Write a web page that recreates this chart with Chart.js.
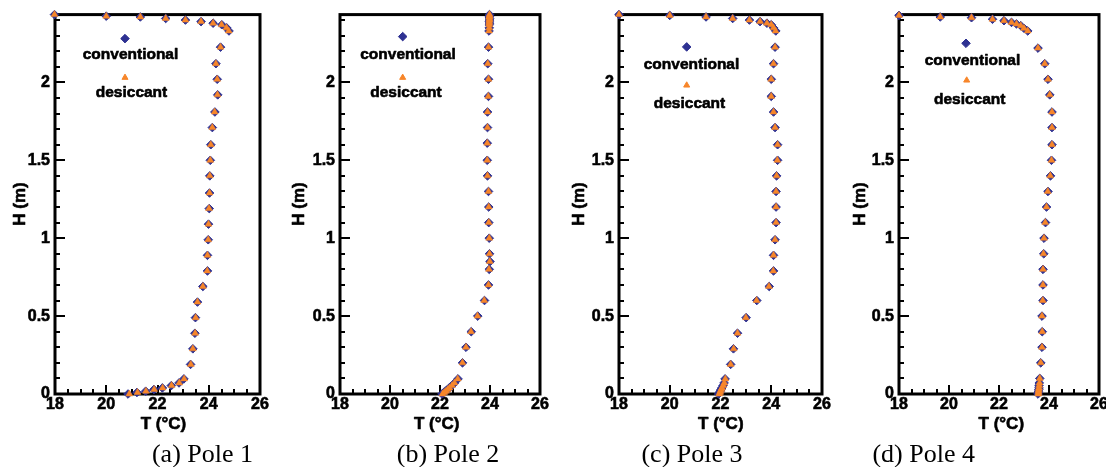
<!DOCTYPE html>
<html><head><meta charset="utf-8">
<script src="https://cdn.jsdelivr.net/npm/chart.js@4/dist/chart.umd.min.js"></script>
<style>
html,body{margin:0;padding:0;background:#fff;overflow:hidden;width:1106px;height:467px;}
canvas{position:absolute;top:0;}
.cap{position:absolute;top:441px;font-family:"Liberation Serif","Times New Roman",serif;font-size:26px;line-height:26px;white-space:nowrap;color:#000;transform:translateX(-50%);}
</style></head><body>
<canvas id="c1"></canvas><canvas id="c2"></canvas><canvas id="c3"></canvas><canvas id="c4"></canvas>
<div class="cap" id="cap1"></div><div class="cap" id="cap2"></div><div class="cap" id="cap3"></div><div class="cap" id="cap4"></div>
<script>
// ---------- data ----------
const seriesNames = ['conventional', 'desiccant'];
const captions = ['(a) Pole 1', '(b) Pole 2', '(c) Pole 3', '(d) Pole 4'];
const xTickLabels = [18, 20, 22, 24, 26];
const yTickLabels = [0, 0.5, 1, 1.5, 2];
const xTitle = 'T (°C)';
const yTitle = 'H (m)';

// Pole 1
const heights1 = [0, 0.01, 0.018, 0.029, 0.039, 0.054, 0.071, 0.097, 0.19, 0.29, 0.39, 0.49, 0.59, 0.69, 0.79, 0.89, 0.99, 1.09, 1.19, 1.29, 1.40, 1.50, 1.60, 1.71, 1.81, 1.92, 2.02, 2.12, 2.226, 2.33, 2.35, 2.37, 2.38, 2.39, 2.40, 2.41, 2.42, 2.425, 2.435];
const convT1 = [20.85, 21.20, 21.54, 21.86, 22.19, 22.54, 22.84, 23.03, 23.29, 23.38, 23.46, 23.48, 23.56, 23.77, 23.95, 23.95, 23.98, 23.99, 24.02, 24.03, 24.04, 24.06, 24.08, 24.14, 24.24, 24.35, 24.33, 24.28, 24.46, 24.79, 24.70, 24.51, 24.17, 23.70, 23.09, 22.32, 21.33, 20.00, 17.98];
const desT1 = [20.90, 21.22, 21.55, 21.87, 22.20, 22.55, 22.85, 23.04, 23.30, 23.38, 23.47, 23.49, 23.56, 23.77, 23.94, 23.95, 23.98, 23.99, 24.01, 24.03, 24.04, 24.06, 24.08, 24.14, 24.23, 24.34, 24.33, 24.28, 24.46, 24.78, 24.69, 24.50, 24.17, 23.70, 23.09, 22.32, 21.33, 20.00, 17.98];

// Pole 2
const heights2 = [0, 0.01, 0.018, 0.029, 0.039, 0.054, 0.071, 0.097, 0.20, 0.30, 0.40, 0.50, 0.60, 0.70, 0.80, 0.85, 0.90, 1.00, 1.10, 1.20, 1.30, 1.40, 1.50, 1.61, 1.71, 1.81, 1.91, 2.02, 2.12, 2.226, 2.33, 2.35, 2.37, 2.38, 2.39, 2.40, 2.41, 2.42, 2.425, 2.435];
const convT2 = [22.08, 22.15, 22.22, 22.30, 22.37, 22.47, 22.58, 22.72, 22.90, 23.04, 23.25, 23.51, 23.78, 23.94, 23.97, 24.00, 23.98, 23.97, 23.95, 23.95, 23.94, 23.90, 23.89, 23.89, 23.90, 23.90, 23.94, 23.94, 23.91, 23.94, 23.96, 23.97, 23.97, 23.98, 23.97, 23.98, 23.98, 23.97, 23.98, 23.98];
const desT2 = [22.10, 22.17, 22.24, 22.31, 22.38, 22.48, 22.58, 22.71, 22.90, 23.04, 23.24, 23.50, 23.77, 23.94, 23.96, 23.99, 23.98, 23.97, 23.95, 23.95, 23.94, 23.90, 23.89, 23.89, 23.90, 23.90, 23.93, 23.94, 23.91, 23.94, 23.96, 23.97, 23.97, 23.97, 23.97, 23.98, 23.98, 23.97, 23.98, 23.98];

// Pole 3
const heights3 = [0, 0.01, 0.018, 0.029, 0.039, 0.054, 0.071, 0.097, 0.19, 0.29, 0.39, 0.49, 0.60, 0.69, 0.79, 0.89, 0.99, 1.10, 1.20, 1.30, 1.40, 1.50, 1.60, 1.71, 1.81, 1.91, 2.02, 2.12, 2.226, 2.33, 2.35, 2.37, 2.38, 2.39, 2.40, 2.41, 2.42, 2.43, 2.435];
const convT3 = [21.93, 21.96, 21.99, 22.02, 22.05, 22.10, 22.14, 22.18, 22.40, 22.51, 22.67, 23.01, 23.43, 23.92, 24.09, 24.09, 24.15, 24.19, 24.19, 24.19, 24.21, 24.25, 24.25, 24.15, 24.09, 24.00, 24.00, 24.09, 24.15, 24.18, 24.09, 24.00, 23.83, 23.56, 23.14, 22.48, 21.43, 20.00, 18.00];
const desT3 = [21.95, 21.98, 22.00, 22.03, 22.06, 22.11, 22.15, 22.19, 22.40, 22.52, 22.67, 23.00, 23.42, 23.91, 24.08, 24.09, 24.15, 24.19, 24.19, 24.19, 24.21, 24.24, 24.25, 24.15, 24.09, 24.00, 24.00, 24.09, 24.15, 24.17, 24.09, 24.00, 23.83, 23.56, 23.14, 22.48, 21.43, 20.00, 18.00];

// Pole 4
const heights4 = [0, 0.01, 0.018, 0.029, 0.039, 0.054, 0.071, 0.10, 0.20, 0.30, 0.40, 0.50, 0.60, 0.70, 0.80, 0.90, 1.00, 1.10, 1.20, 1.30, 1.40, 1.50, 1.60, 1.71, 1.81, 1.92, 2.02, 2.12, 2.22, 2.33, 2.347, 2.364, 2.375, 2.385, 2.396, 2.405, 2.415, 2.42, 2.43];
const convT4 = [23.56, 23.57, 23.58, 23.59, 23.60, 23.60, 23.61, 23.63, 23.67, 23.72, 23.73, 23.72, 23.76, 23.76, 23.76, 23.79, 23.80, 23.86, 23.90, 23.96, 24.06, 24.10, 24.12, 24.12, 24.12, 24.03, 23.96, 23.83, 23.56, 23.15, 23.00, 22.87, 22.70, 22.50, 22.20, 21.74, 20.90, 19.65, 18.00];
const desT4 = [23.57, 23.58, 23.58, 23.59, 23.60, 23.61, 23.62, 23.63, 23.67, 23.72, 23.73, 23.72, 23.75, 23.76, 23.76, 23.78, 23.80, 23.85, 23.90, 23.95, 24.05, 24.10, 24.12, 24.12, 24.12, 24.03, 23.96, 23.83, 23.56, 23.15, 23.00, 22.87, 22.70, 22.50, 22.20, 21.74, 20.90, 19.65, 18.00];

// ---------- layout (positions / styles only) ----------
const panels = [
  {canvas:'c1', cap:'cap1', L:55,  R:260,  heights:heights1, conv:convT1, des:desT1, hX:20.8,  tX:163.5,  capX:202.5,
   leg:{dx:70, dy:24, cx:75.5, cy:40, tx:70, ty:63, sx:76.5, sy:78}},
  {canvas:'c2', cap:'cap2', L:340, R:540,  heights:heights2, conv:convT2, des:desT2, hX:299.2, tX:436.7,  capX:448,
   leg:{dx:62.7, dy:22, cx:68, cy:40, tx:62.7, ty:63, sx:66, sy:78}},
  {canvas:'c3', cap:'cap3', L:619, R:822,  heights:heights3, conv:convT3, des:desT3, hX:579.2, tX:720.8,  capX:692,
   leg:{dx:67.7, dy:32.3, cx:72.5, cy:50, tx:67.7, ty:70.7, sx:70.5, sy:88.7}},
  {canvas:'c4', cap:'cap4', L:899, R:1099, heights:heights4, conv:convT4, des:desT4, hX:860.8, tX:1001.3, capX:923.7,
   leg:{dx:67, dy:28.7, cx:73.5, cy:46.3, tx:67.7, ty:65.7, sx:70.7, sy:85.3}}
];
const BLUE = '#2e3192', ORANGE = '#f7862a';
const YAXW = 60, PADR = 15, CANH = 445, TOP = 12, BOTTOM = 394;
const FAMILY = '"Liberation Sans", Arial, Helvetica, sans-serif';
const boldFont = (s) => 'bold ' + s + 'px ' + FAMILY;

function heavyText(ctx, txt, x, y) {
  ctx.strokeText(txt, x, y);
  ctx.fillText(txt, x, y);
}

const deco = {
  id: 'deco',
  beforeDatasetsDraw(chart, args, o) {
    const {ctx, chartArea: a} = chart;
    const x = chart.scales.x, y = chart.scales.y;
    ctx.save();
    ctx.strokeStyle = '#000';
    ctx.lineWidth = 2;
    ctx.beginPath();
    for (let v = xTickLabels[0]; v <= xTickLabels[xTickLabels.length - 1] + 1e-9; v += 0.5) {
      const px = Math.round(x.getPixelForValue(v));
      const len = (Math.abs(v % 2) < 1e-6) ? 9 : 5;
      ctx.moveTo(px, a.bottom); ctx.lineTo(px, a.bottom - len);
    }
    for (let v = 0; v <= y.max + 1e-9; v += 0.1) {
      const py = Math.round(y.getPixelForValue(v));
      const r = Math.round(v * 10);
      const len = (r % 5 === 0) ? 10 : 5;
      ctx.moveTo(a.left, py); ctx.lineTo(a.left + len, py);
    }
    ctx.stroke();
    ctx.lineWidth = 3;
    ctx.strokeRect(a.left, a.top, a.right - a.left, a.bottom - a.top);
    ctx.restore();
  },
  afterDraw(chart, args, o) {
    const {ctx, chartArea: a} = chart;
    const off = o.canvasLeft;
    ctx.save();
    ctx.fillStyle = '#000';
    ctx.strokeStyle = '#000';
    ctx.lineWidth = 0.6;
    ctx.lineJoin = 'round';
    ctx.textAlign = 'center';
    ctx.textBaseline = 'middle';
    ctx.font = boldFont(17);
    heavyText(ctx, xTitle, o.tX - off, 424);
    ctx.save();
    ctx.translate(o.hX - off, 204);
    ctx.rotate(-Math.PI / 2);
    heavyText(ctx, yTitle, 0, 0);
    ctx.restore();
    ctx.font = boldFont(15.5);
    const g = o.leg;
    heavyText(ctx, seriesNames[0], a.left + g.cx, a.top + g.cy);
    heavyText(ctx, seriesNames[1], a.left + g.sx, a.top + g.sy);
    // legend markers
    ctx.fillStyle = BLUE; ctx.strokeStyle = BLUE; ctx.lineWidth = 1;
    Chart.helpers.drawPoint(ctx, {pointStyle:'rectRot', radius:4.3, borderWidth:1, rotation:0}, a.left + g.dx, a.top + g.dy);
    ctx.fillStyle = ORANGE; ctx.strokeStyle = ORANGE;
    Chart.helpers.drawPoint(ctx, {pointStyle:'triangle', radius:3.5, borderWidth:0.5, rotation:0}, a.left + g.tx, a.top + g.ty);
    ctx.restore();
  }
};

panels.forEach((p, i) => {
  const cv = document.getElementById(p.canvas);
  const canvasLeft = p.L - YAXW;
  cv.style.left = canvasLeft + 'px';
  cv.width = (p.R - p.L) + YAXW + PADR;
  cv.height = CANH;
  const cap = document.getElementById(p.cap);
  cap.textContent = captions[i];
  cap.style.left = p.capX + 'px';

  const mk = (T) => T.map((t, k) => ({x: t, y: p.heights[k]}));
  new Chart(cv, {
    type: 'scatter',
    data: {
      datasets: [
        {label: seriesNames[0], data: mk(p.conv), order: 1, pointStyle: 'rectRot', pointRadius: 4.3,
         backgroundColor: BLUE, borderColor: BLUE, borderWidth: 1, showLine: false, clip: false},
        {label: seriesNames[1], data: mk(p.des), order: 0, pointStyle: 'triangle', pointRadius: 4,
         backgroundColor: ORANGE, borderColor: ORANGE, borderWidth: 0.5, showLine: false, clip: false}
      ]
    },
    options: {
      responsive: false, maintainAspectRatio: false, animation: false, devicePixelRatio: 1,
      layout: {padding: {left: 0, right: PADR, top: TOP, bottom: 0}},
      plugins: {legend: {display: false}, tooltip: {enabled: false},
        deco: {canvasLeft: canvasLeft, tX: p.tX, hX: p.hX, leg: p.leg}},
      scales: {
        x: {type: 'linear', position: 'bottom', min: xTickLabels[0], max: xTickLabels[xTickLabels.length - 1],
            grid: {display: false, drawTicks: false}, border: {display: false},
            ticks: {stepSize: 2, padding: 1, color: '#000', textStrokeColor: '#000', textStrokeWidth: 0.6,
                    font: {family: FAMILY, weight: 'bold', size: 16},
                    maxRotation: 0, autoSkip: false,
                    callback: (v) => xTickLabels.includes(v) ? String(v) : ''},
            afterFit: (s) => { s.height = CANH - BOTTOM; }},
        y: {type: 'linear', position: 'left', min: 0, max: 2.435,
            grid: {display: false, drawTicks: false}, border: {display: false},
            ticks: {stepSize: 0.5, includeBounds: false, padding: 5, color: '#000', textStrokeColor: '#000', textStrokeWidth: 0.6,
                    font: {family: FAMILY, weight: 'bold', size: 16},
                    callback: (v) => yTickLabels.includes(v) ? String(v) : ''},
            afterFit: (s) => { s.width = YAXW; }}
      }
    },
    plugins: [deco]
  });
});
</script>
</body></html>
